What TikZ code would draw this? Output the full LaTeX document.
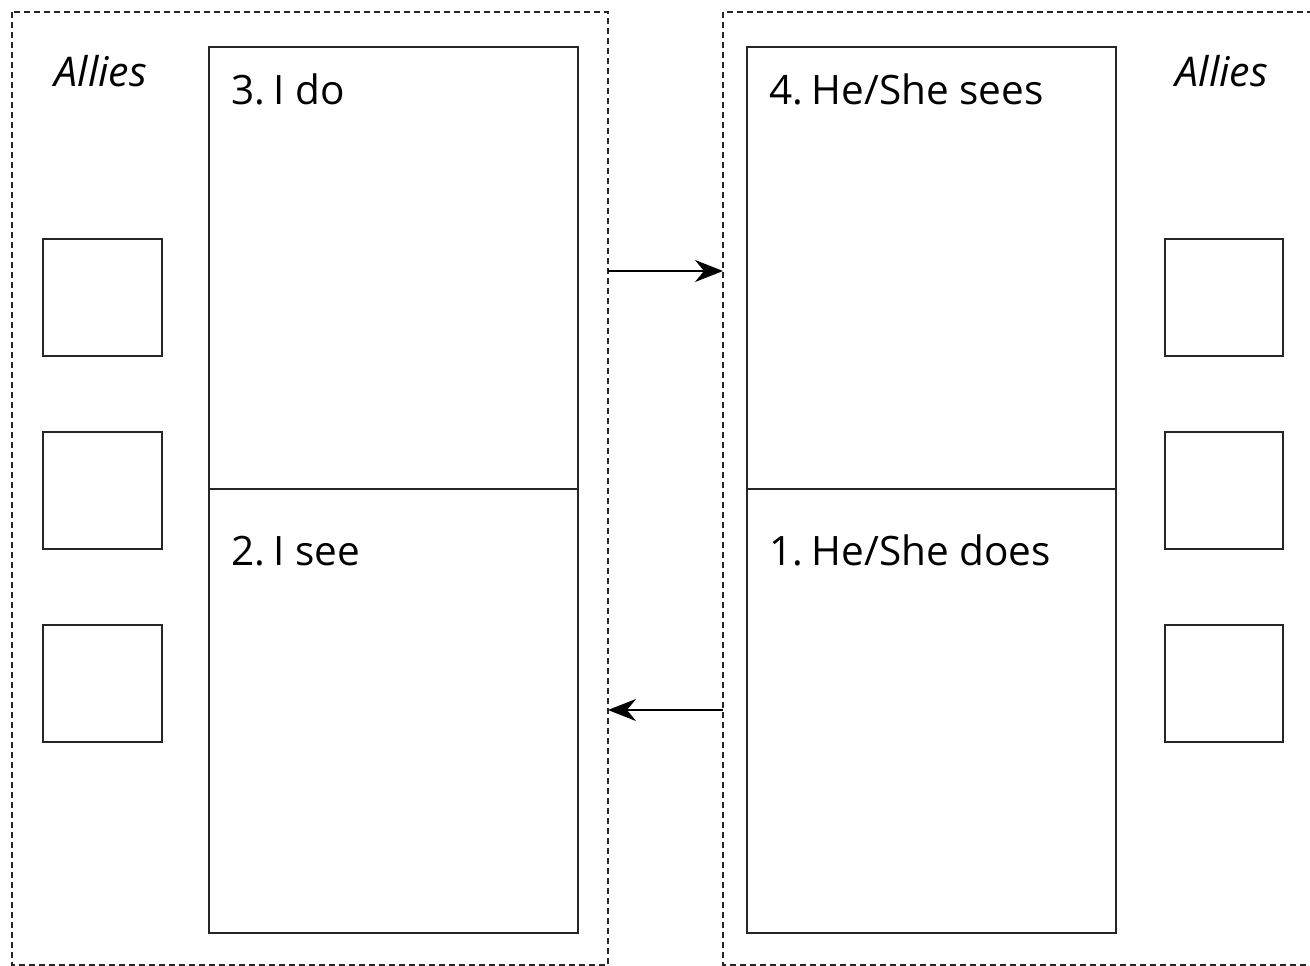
\documentclass[tikz,border=0pt]{standalone}
\usepackage{fontspec}
\setmainfont{Open Sans}
\usetikzlibrary{arrows.meta}
\begin{document}
\begin{tikzpicture}[x=1pt,y=-1pt,
  outer/.style={draw=black!85,line width=1.4pt,dash pattern=on 6pt off 4pt},
  panel/.style={draw=black!85,line width=1.8pt},
  ally/.style={draw=black!85,line width=1.8pt},
  lbl/.style={anchor=base west,font=\fontsize{40.5}{46}\selectfont,inner sep=0pt},
  allylbl/.style={anchor=base,font=\fontsize{41}{48}\selectfont\itshape,inner sep=0pt},
  conn/.style={line width=1.8pt,-{Stealth[length=28pt,width=22pt,inset=9pt]}}]
\useasboundingbox (0,0) rectangle (1310,966);
% outer dashed groups
\draw[outer] (12,12) rectangle (608,965);
\draw[outer] (723,12) rectangle (1330,965);
\coordinate (lo1) at (608,271);
\coordinate (ro1) at (723,271);
\coordinate (lo2) at (608,710);
\coordinate (ro2) at (723,710);
% panels
\draw[panel] (209,47) rectangle (578,933);
\draw[panel] (209,489) -- (578,489);
\draw[panel] (747,47) rectangle (1116,933);
\draw[panel] (747,489) -- (1116,489);
% labels
\node[lbl] (t3) at (231,105) {3.\kern-2pt\ I do};
\node[lbl] (t2) at (231,565) {2.\kern-2pt\ I see};
\node[lbl] (t4) at (769,105) {4.\kern-2pt\ He/She sees};
\node[lbl] (t1) at (769,565) {1.\kern-2pt\ He/She does};
\node[allylbl] (al) at (101,86) {Allies};
\node[allylbl] (ar) at (1222,86) {Allies};
% ally squares
\draw[ally] (43,239) rectangle (162,356);
\draw[ally] (43,432) rectangle (162,549);
\draw[ally] (43,625) rectangle (162,742);
\draw[ally] (1165,239) rectangle (1283,356);
\draw[ally] (1165,432) rectangle (1283,549);
\draw[ally] (1165,625) rectangle (1283,742);
% connectors
\draw[conn] (lo1) -- (ro1);
\draw[conn] (ro2) -- (lo2);
\end{tikzpicture}
\end{document}
